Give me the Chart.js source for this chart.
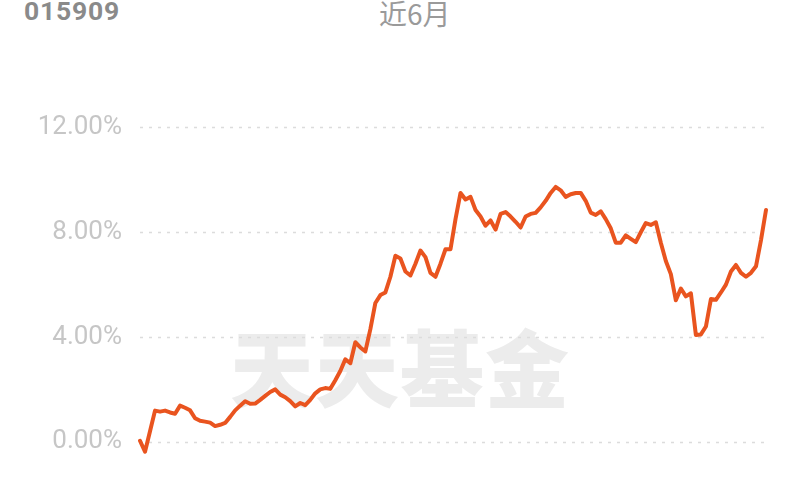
<!DOCTYPE html>
<html>
<head>
<meta charset="utf-8">
<script src="https://cdn.jsdelivr.net/npm/chart.js@4/dist/chart.umd.min.js"></script>
<style>
  html, body { margin: 0; padding: 0; background: #ffffff; }
  #wrap { position: relative; width: 800px; height: 500px; overflow: hidden; }
  #code { position: absolute; left: 24px; top: -5px; font: bold 26.5px Roboto, "Noto Sans", sans-serif; color: #8a8a8a; letter-spacing: 0.8px; }
  #period { position: absolute; left: 379px; top: -7px; font: 28px "Noto Sans CJK SC", Roboto, sans-serif; color: #9a9a9a; }
  #wm { position: absolute; left: 230px; top: 304px; font: 900 84px "Noto Sans CJK SC", sans-serif; color: #ececec; letter-spacing: 1px; white-space: nowrap; }
  canvas { position: absolute; left: 0; top: 0; }
</style>
</head>
<body>
<div id="wrap">
  <div id="wm">天天基金</div>
  <div id="code">015909</div>
  <div id="period">近6月</div>
  <canvas id="c" width="800" height="500"></canvas>
</div>
<script>
// Cumulative return (%) over the last 6 months
const returns = [
  0.04, -0.38, 0.4, 1.19, 1.15, 1.19, 1.12, 1.07, 1.38, 1.3,
  1.2, 0.9, 0.8, 0.77, 0.73, 0.6, 0.65, 0.72, 0.95, 1.2,
  1.38, 1.55, 1.45, 1.46, 1.6, 1.75, 1.9, 2.0, 1.8, 1.7,
  1.55, 1.35, 1.48, 1.4, 1.6, 1.85, 2.0, 2.05, 2.02, 2.35,
  2.7, 3.15, 3.0, 3.8, 3.6, 3.45, 4.3, 5.3, 5.6, 5.7,
  6.3, 7.1, 7.0, 6.5, 6.35, 6.8, 7.3, 7.05, 6.45, 6.3,
  6.8, 7.35, 7.35, 8.5, 9.5, 9.25, 9.35, 8.85, 8.6, 8.25,
  8.45, 8.1, 8.7, 8.77, 8.6, 8.4, 8.18, 8.6, 8.7, 8.74,
  8.95, 9.2, 9.5, 9.73, 9.6, 9.35, 9.45, 9.5, 9.5, 9.2,
  8.75, 8.66, 8.8, 8.5, 8.15, 7.6, 7.6, 7.88, 7.75, 7.62,
  8.0, 8.35, 8.28, 8.38, 7.6, 6.9, 6.4, 5.4, 5.85, 5.55,
  5.67, 4.08, 4.1, 4.4, 5.45, 5.42, 5.7, 6.0, 6.5, 6.75,
  6.45, 6.3, 6.45, 6.7, 7.7, 8.85
];
const days = returns.map((_, i) => String(i + 1));
const yTicks = [0, 4, 8, 12];

new Chart(document.getElementById('c'), {
  type: 'line',
  data: {
    labels: days,
    datasets: [{
      data: returns,
      borderColor: '#e9541f',
      borderWidth: 4,
      pointRadius: 0,
      tension: 0,
      fill: false,
      borderJoinStyle: 'round',
      borderCapStyle: 'round'
    }]
  },
  options: {
    responsive: false,
    animation: false,
    devicePixelRatio: 1,
    layout: { padding: { top: 75.6, bottom: 6.8, right: 34, left: 0 } },
    plugins: { legend: { display: false }, tooltip: { enabled: false } },
    scales: {
      x: { display: false },
      y: {
        min: -0.94,
        max: 13.98,
        afterBuildTicks: (s) => { s.ticks = yTicks.map(v => ({ value: v })); },
        afterFit: (s) => { s.width = 140; },
        border: { display: false },
        grid: { display: false, drawTicks: false },
        ticks: {
          padding: 18,
          color: '#c6c6c6',
          font: { family: 'Roboto', size: 26 },
          callback: (v) => Number(v).toFixed(2) + '%'
        }
      }
    }
  },
  plugins: [{
    id: 'dashGrid',
    beforeDatasetsDraw(chart) {
      const y = chart.scales.y;
      const ctx = chart.ctx;
      const a = chart.chartArea;
      ctx.save();
      ctx.strokeStyle = '#dcdcdc';
      ctx.lineWidth = 1.5;
      ctx.setLineDash([3, 6]);
      yTicks.forEach(v => {
        const py = Math.round(y.getPixelForValue(v)) + 0.5;
        ctx.beginPath();
        ctx.moveTo(a.left, py);
        ctx.lineTo(a.right, py);
        ctx.stroke();
      });
      ctx.restore();
    }
  }]
});
</script>
</body>
</html>
